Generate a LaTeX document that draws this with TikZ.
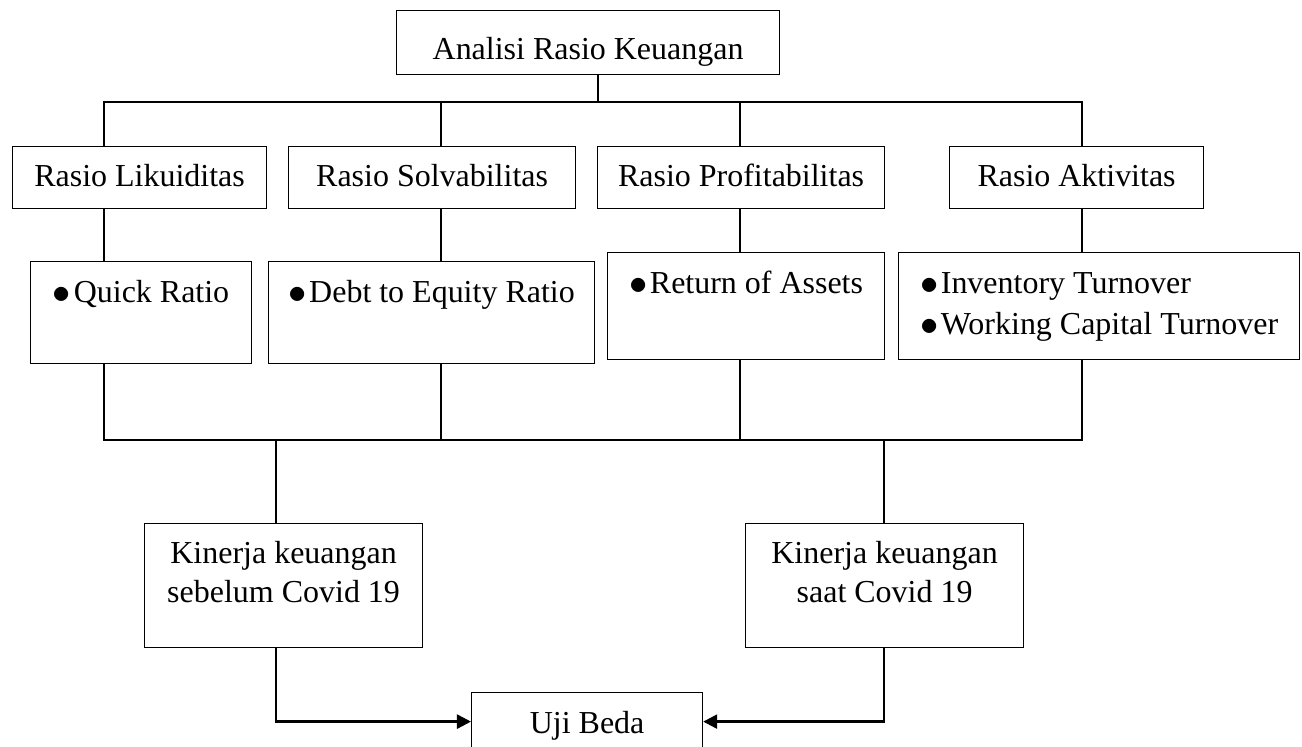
\documentclass[tikz,border=0pt]{standalone}
\usepackage{fontspec}
\setmainfont{Liberation Serif}
\usetikzlibrary{arrows.meta}
\newcommand{\itm}{\raisebox{-0.5pt}{\fontsize{21}{22}\selectfont$\bullet$}\hspace{1.5pt}}

\begin{document}
\begin{tikzpicture}[x=0.02cm, y=-0.02cm]
% Define styles
\tikzset{box/.style={draw, line width=0.7pt, inner sep=0pt, anchor=north west,
    font=\fontsize{18.2}{22}\selectfont},
  link/.style={line width=1.6pt},
  flow/.style={line width=1.4pt, -{Triangle[length=8pt, width=8pt]}}}

% Page size
\useasboundingbox (0,0) rectangle (1302,747);

% Top box
\node[box, minimum width=7.66cm, text height=0.98cm, text depth=0.30cm] (analisis) at (396,10) {Analisi Rasio Keuangan};

% Ratio groups
\node[box, minimum width=5.08cm, text height=0.80cm, text depth=0.44cm] (likuid) at (12,146) {Rasio Likuiditas};
\node[box, minimum width=5.74cm, text height=0.80cm, text depth=0.44cm] (solva) at (288,146) {Rasio Solvabilitas};
\node[box, minimum width=5.74cm, text height=0.80cm, text depth=0.44cm] (profit) at (597,146) {Rasio Profitabilitas};
\node[box, minimum width=5.08cm, text height=0.80cm, text depth=0.44cm] (aktiv) at (949,146) {Rasio Aktivitas};

% Indicators
\node[box, minimum width=4.42cm, text height=0.82cm, text depth=1.22cm] (quick) at (30,261) {\itm Quick Ratio};
\node[box, minimum width=6.52cm, text height=0.82cm, text depth=1.22cm] (der) at (268,261) {\itm Debt to Equity Ratio};
\node[box, minimum width=5.54cm, text height=0.82cm, text depth=1.32cm] (roa) at (607,252) {\itm Return of Assets};
\node[box, minimum width=8.02cm, text height=0.82cm, text depth=1.32cm] (turn) at (898,252)
  {\begin{tabular}[t]{@{}l@{}}\itm Inventory Turnover\\[1.3pt] \itm Working Capital Turnover\end{tabular}};

% Performance
\node[box, minimum width=5.56cm, text height=0.80cm, text depth=1.68cm] (before) at (144,523)
  {\begin{tabular}[t]{@{}c@{}}Kinerja keuangan\\ sebelum Covid 19\end{tabular}};
\node[box, minimum width=5.56cm, text height=0.80cm, text depth=1.68cm] (during) at (745,523)
  {\begin{tabular}[t]{@{}c@{}}Kinerja keuangan\\ saat Covid 19\end{tabular}};
\node[box, minimum width=4.62cm, text height=0.81cm, text depth=0.35cm] (uji) at (471,692) {Uji Beda};

% Junctions
\coordinate (hub) at (598,102);
\coordinate (colA) at (104,102);
\coordinate (colB) at (441,102);
\coordinate (colC) at (740,102);
\coordinate (colD) at (1082,102);
\coordinate (hubL) at (276,440);
\coordinate (hubR) at (884,440);

% Upper tree
\draw[link] (analisis.south -| hub) -- (hub);
\draw[link] (colA |- likuid.north) -- (colA) -- (colD) -- (colD |- aktiv.north);
\draw[link] (colB) -- (colB |- solva.north);
\draw[link] (colC) -- (colC |- profit.north);
\foreach \r/\i/\c in {likuid/quick/colA, solva/der/colB, profit/roa/colC, aktiv/turn/colD}
  \draw[link] (\r.south -| \c) -- (\i.north -| \c);

% Lower tree
\draw[link] (quick.south -| colA) -- (colA |- hubL) -- (colD |- hubL) -- (turn.south -| colD);
\draw[link] (der.south -| colB) -- (colB |- hubL);
\draw[link] (roa.south -| colC) -- (colC |- hubL);
\draw[link] (hubL) -- (hubL |- before.north);
\draw[link] (hubR) -- (hubR |- during.north);

% Into the test
\draw[flow] (before.south -| hubL) |- (uji.west);
\draw[flow] (during.south -| hubR) |- (uji.east);
\end{tikzpicture}
\end{document}
